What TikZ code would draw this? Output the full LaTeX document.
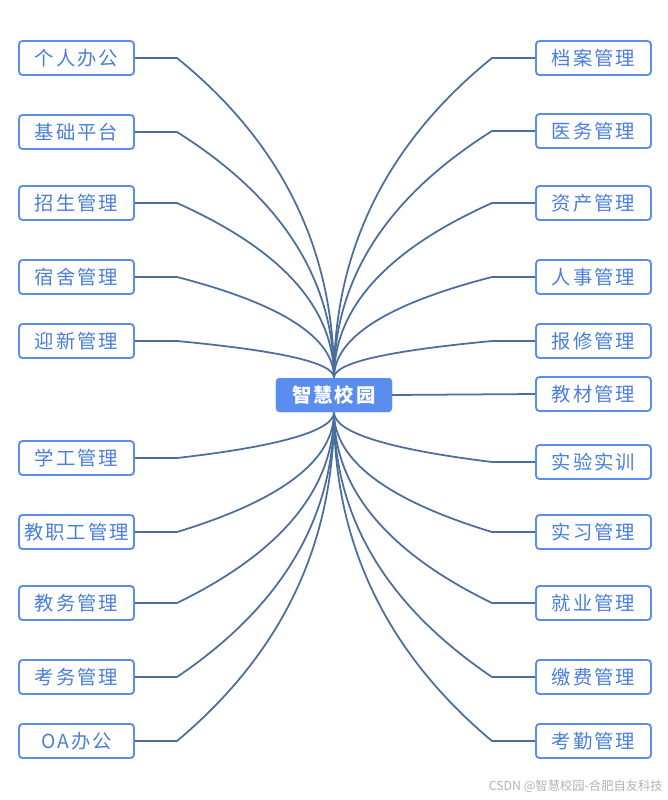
\documentclass[tikz,border=0pt]{standalone}
\usepackage{fontspec}
\setmainfont{Noto Sans CJK SC}[LetterSpace=10]
\newfontfamily\markfont{Noto Sans CJK SC}
\usetikzlibrary{positioning}
\definecolor{boxblue}{HTML}{5B8DEF}
\definecolor{textblue}{HTML}{4A7FD9}
\definecolor{linkblue}{HTML}{4B6E9E}
\begin{document}
\begin{tikzpicture}[x=0.03cm,y=-0.03cm,
  leaf/.style={draw=boxblue,line width=1.6pt,fill=white,rounded corners=3pt,minimum width=3.45cm,minimum height=1.02cm,inner sep=0pt,text=textblue,font=\fontsize{16.5}{19}\selectfont},
  hub/.style={fill=boxblue,rounded corners=3pt,minimum width=3.48cm,minimum height=1.02cm,inner sep=0pt,text=white,font=\fontsize{16.5}{19}\selectfont\bfseries},
  link/.style={draw=linkblue,line width=1.5pt}]
\useasboundingbox (0,0) rectangle (668,800);
\node[hub] (hub) at (334,395) {智慧校园};
% left branch
\node[leaf] (l1) at (76.5,58) {个人办公};
\node[leaf] (l2) at (76.5,132) {基础平台};
\node[leaf] (l3) at (76.5,203) {招生管理};
\node[leaf] (l4) at (76.5,277) {宿舍管理};
\node[leaf] (l5) at (76.5,341) {迎新管理};
\node[leaf] (l6) at (76.5,458) {学工管理};
\node[leaf] (l7) at (76.5,532) {教职工管理};
\node[leaf] (l8) at (76.5,603) {教务管理};
\node[leaf] (l9) at (76.5,677) {考务管理};
\node[leaf] (l10) at (76.5,741) {OA办公};
% right branch
\node[leaf] (r1) at (593.5,58) {档案管理};
\node[leaf] (r2) at (593.5,131) {医务管理};
\node[leaf] (r3) at (593.5,203) {资产管理};
\node[leaf] (r4) at (593.5,277) {人事管理};
\node[leaf] (r5) at (593.5,341) {报修管理};
\node[leaf] (r6) at (593.5,394) {教材管理};
\node[leaf] (r7) at (593.5,462) {实验实训};
\node[leaf] (r8) at (593.5,532) {实习管理};
\node[leaf] (r9) at (593.5,603) {就业管理};
\node[leaf] (r10) at (593.5,677) {缴费管理};
\node[leaf] (r11) at (593.5,741) {考勤管理};
% elbows
\coordinate (el1) at (177,58);
\coordinate (el2) at (177,132);
\coordinate (el3) at (177,203);
\coordinate (el4) at (177,277);
\coordinate (el5) at (177,341);
\coordinate (el6) at (177,458);
\coordinate (el7) at (177,532);
\coordinate (el8) at (177,603);
\coordinate (el9) at (177,677);
\coordinate (el10) at (177,741);
\coordinate (er1) at (492,58);
\coordinate (er2) at (492,131);
\coordinate (er3) at (492,203);
\coordinate (er4) at (492,277);
\coordinate (er5) at (492,341);
\coordinate (er7) at (492,462);
\coordinate (er8) at (492,532);
\coordinate (er9) at (492,603);
\coordinate (er10) at (492,677);
\coordinate (er11) at (492,741);
% left links
\draw[link] (l1.east) -- (el1) .. controls +(105,85) and +(0,-128) .. (hub.north);
\draw[link] (l2.east) -- (el2) .. controls +(105,66) and +(0,-98) .. (hub.north);
\draw[link] (l3.east) -- (el3) .. controls +(105,47) and +(0,-70) .. (hub.north);
\draw[link] (l4.east) -- (el4) .. controls +(105,27) and +(0,-40) .. (hub.north);
\draw[link] (l5.east) -- (el5) .. controls +(105,10) and +(0,-15) .. (hub.north);
\draw[link] (l6.east) -- (el6) .. controls +(105,-12) and +(0,18) .. (hub.south);
\draw[link] (l7.east) -- (el7) .. controls +(105,-32) and +(0,48) .. (hub.south);
\draw[link] (l8.east) -- (el8) .. controls +(105,-51) and +(0,76) .. (hub.south);
\draw[link] (l9.east) -- (el9) .. controls +(105,-71) and +(0,106) .. (hub.south);
\draw[link] (l10.east) -- (el10) .. controls +(105,-88) and +(0,132) .. (hub.south);
% right links
\draw[link] (r1.west) -- (er1) .. controls +(-105,85) and +(0,-128) .. (hub.north);
\draw[link] (r2.west) -- (er2) .. controls +(-105,66) and +(0,-99) .. (hub.north);
\draw[link] (r3.west) -- (er3) .. controls +(-105,47) and +(0,-70) .. (hub.north);
\draw[link] (r4.west) -- (er4) .. controls +(-105,27) and +(0,-40) .. (hub.north);
\draw[link] (r5.west) -- (er5) .. controls +(-105,10) and +(0,-15) .. (hub.north);
\draw[link] (hub.east) -- (r6.west);
\draw[link] (r7.west) -- (er7) .. controls +(-105,-13) and +(0,20) .. (hub.south);
\draw[link] (r8.west) -- (er8) .. controls +(-105,-32) and +(0,48) .. (hub.south);
\draw[link] (r9.west) -- (er9) .. controls +(-105,-51) and +(0,76) .. (hub.south);
\draw[link] (r10.west) -- (er10) .. controls +(-105,-71) and +(0,106) .. (hub.south);
\draw[link] (r11.west) -- (er11) .. controls +(-105,-88) and +(0,132) .. (hub.south);
% redraw hub on top
\node[hub] at (hub) {智慧校园};
\node[font=\markfont\fontsize{10.5}{12}\selectfont,text=black!30,anchor=east,inner sep=0pt] (mark) at (663,786) {CSDN @智慧校园-合肥自友科技};
\end{tikzpicture}
\end{document}
